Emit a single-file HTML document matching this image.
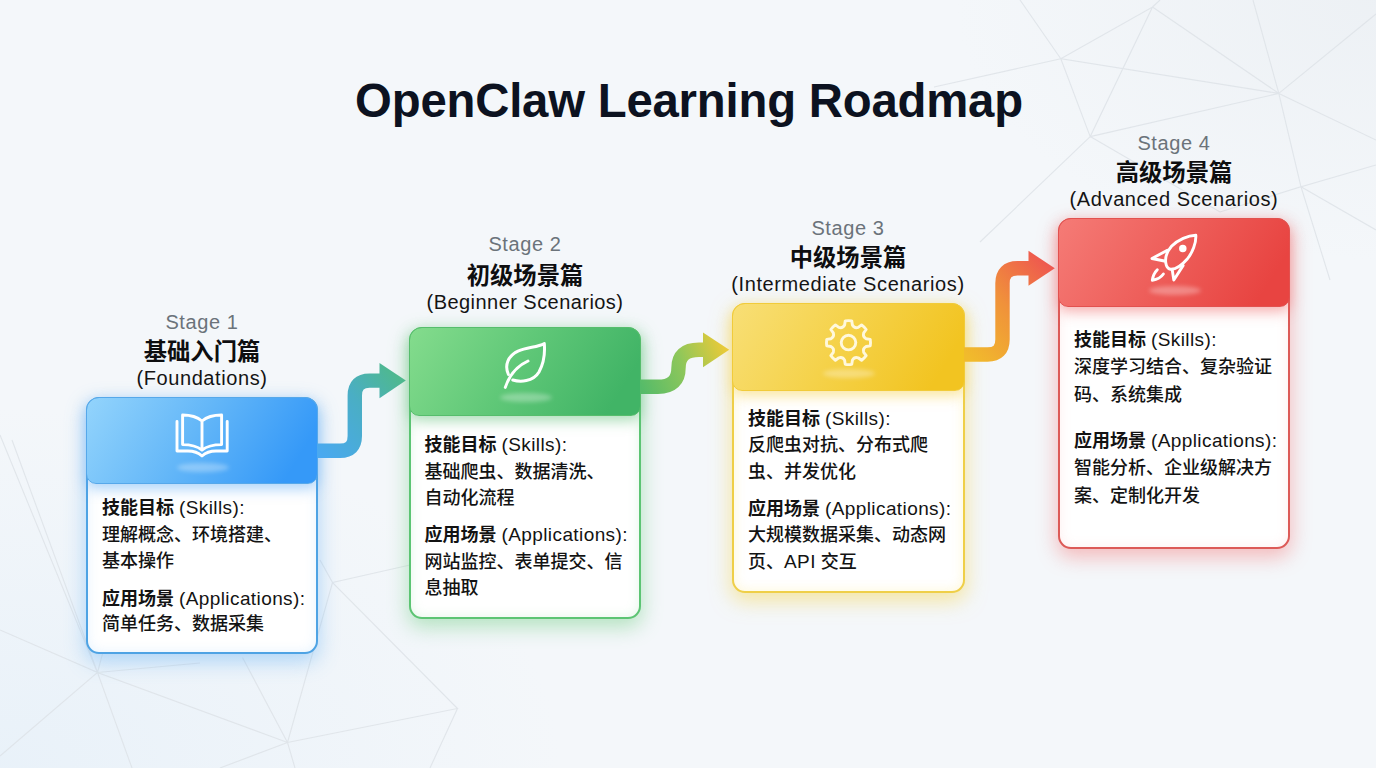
<!DOCTYPE html>
<html lang="zh">
<head>
<meta charset="utf-8">
<title>OpenClaw Learning Roadmap</title>
<style>
*{box-sizing:border-box;margin:0;padding:0}
html,body{width:1376px;height:768px;overflow:hidden}
body{position:relative;font-family:"Liberation Sans","Noto Sans CJK SC",sans-serif;color:#111;
background:
 radial-gradient(ellipse 560px 360px at 0px 768px, rgba(232,241,249,.95), rgba(232,241,249,0) 100%),
 radial-gradient(ellipse 420px 260px at 1376px 0px, rgba(236,240,244,.9), rgba(236,240,244,0) 100%),
 #f4f7fa;}
#bg{position:absolute;left:0;top:0;width:1376px;height:768px}
h1{position:absolute;left:1px;width:1376px;top:71px;text-align:center;font-size:47.3px;line-height:60px;font-weight:700;color:#0c1220;letter-spacing:-.2px}
.lab{position:absolute;text-align:center;width:320px}
.lab .s{font-size:20px;line-height:24px;color:#6b737a;letter-spacing:.6px}
.lab .c{font-size:23.3px;line-height:30px;font-weight:700;color:#0e0e10;font-family:"Noto Sans CJK SC","Liberation Sans",sans-serif}
.lab .e{font-size:20px;line-height:24px;color:#141414;letter-spacing:.6px}
.card{position:absolute;width:232px;border-radius:13px;background:#fff;border:2px solid #000}
.hd{position:absolute;left:-2px;top:-2px;width:232px;height:88px;border-radius:13px 13px 10px 10px;border:1.5px solid #000}
.hd svg{position:absolute;left:0;top:0}
.hd .gl{position:absolute;left:90px;top:65px;width:52px;height:9px;border-radius:50%;background:rgba(255,255,255,.3);filter:blur(2.2px)}
.tx{position:absolute;left:14px;top:95px;width:230px;font-size:18px;line-height:26.5px;color:#131313;white-space:nowrap;font-weight:500}
.tx b{font-weight:700;font-family:"Noto Sans CJK SC","Liberation Sans",sans-serif}
.tx .g{height:8.9px}
.tx .en{font-size:19px;letter-spacing:.4px;font-weight:400}

#ov{position:absolute;left:0;top:0;width:1376px;height:768px;pointer-events:none}
.c1{border-color:#4ea3e4;box-shadow:0 7px 20px 1px rgba(96,176,245,.44),inset 0 0 12px rgba(120,190,250,.18)}
.c1 .hd{background:linear-gradient(122deg,#93d4fc 0%,#64b7f8 45%,#3599f8 88%);border-color:#56a8ea;box-shadow:0 5px 13px rgba(90,170,245,.5)}
.c2{border-color:#5cc473;box-shadow:0 7px 20px 1px rgba(110,205,130,.48),inset 0 0 12px rgba(120,210,140,.2)}
.c2 .hd{background:linear-gradient(122deg,#84dc8d 0%,#60c878 45%,#41b466 88%);border-color:#56bd6c;box-shadow:0 5px 13px rgba(90,190,115,.5)}
.c3{border-color:#efcf48;box-shadow:0 7px 20px 1px rgba(245,215,90,.55),inset 0 0 12px rgba(250,225,110,.28)}
.c3 .hd{background:linear-gradient(122deg,#f8df76 0%,#f5d24a 45%,#f2c421 88%);border-color:#f1cb3a;box-shadow:0 5px 13px rgba(245,210,80,.55)}
.c4{border-color:#dc5a57;box-shadow:0 7px 20px 1px rgba(245,120,120,.48),inset 0 0 12px rgba(250,140,140,.15)}
.c4 .hd{background:linear-gradient(122deg,#f57b76 0%,#ee5f5b 45%,#e84441 88%);border-color:#e2514f;box-shadow:0 5px 13px rgba(240,100,100,.5)}
.t4{line-height:27.9px}
.t4 .g{height:15.3px}
</style>
</head>
<body>
<svg id="bg" viewBox="0 0 1376 768">
 <g stroke="#dce1e6" stroke-width="1.1" fill="none" opacity=".8">
  <path d="M0 435 L97.5 672.500 L287.500 742.500 L457.500 708.500 L332.500 582.500 L287.500 742.500 L242.500 657.500 M0 630 L97.500 672.500 L0 756 M97.500 672.500 L132 768 M97.500 672.500 L103 652 M287.500 742.500 L220 768 M287.500 742.500 L295 768 M457.500 708.500 L430 768 M332.500 582.500 L410 565 M332.500 582.500 L320 560 M12 440 L97.500 672.500 L200 663"/>
  <path d="M934 87 L1060.800 58.800 L1152.500 7 L1090.200 136.600 L1060.800 58.800 L1278.800 93.400 L1152.500 7 M1090.200 136.600 L1278.800 93.400 L1301 186.800 L1376 165 M1278.800 93.400 L1253 0 M1278.800 93.400 L1376 14 M1278.800 93.400 L1376 140 M1090.200 136.600 L980 242 M1090.200 136.600 L1220 212 L1301 186.800 L1330 280 M1152.500 7 L1160 0 M1060.800 58.800 L1020 0 M1301 186.800 L1376 230"/>
 </g>
</svg>

<h1>OpenClaw Learning Roadmap</h1>


<!-- stage labels -->
<div class="lab" style="left:42px;top:310px"><div class="s">Stage 1</div><div class="c" style="margin-top:.5px">基础入门篇</div><div class="e" style="margin-top:1px">(Foundations)</div></div>
<div class="lab" style="left:365px;top:232px"><div class="s">Stage 2</div><div class="c" style="margin-top:3px">初级场景篇</div><div class="e" style="margin-top:1px;letter-spacing:.45px">(Beginner Scenarios)</div></div>
<div class="lab" style="left:688px;top:216px"><div class="s">Stage 3</div><div class="c" style="margin-top:1px">中级场景篇</div><div class="e" style="margin-top:1px">(Intermediate Scenarios)</div></div>
<div class="lab" style="left:1014px;top:131px"><div class="s">Stage 4</div><div class="c" style="margin-top:.5px">高级场景篇</div><div class="e" style="margin-top:1.5px">(Advanced Scenarios)</div></div>

<!-- cards -->
<div class="card c1" style="left:86px;top:397px;height:257px">
 <div class="hd" style="height:87px"><div class="gl"></div></div>
 <div class="tx" style="top:94.2px">
  <div><b>技能目标</b> <span class="en">(Skills):</span></div><div>理解概念、环境搭建、</div><div>基本操作</div>
  <div class="g"></div>
  <div><b>应用场景</b> <span class="en">(Applications):</span></div><div style="margin-top:-1px">简单任务、数据采集</div>
 </div>
</div>
<div class="card c2" style="left:408.5px;top:326.5px;height:292.5px;width:232.5px">
 <div class="hd" style="height:89px;width:232.5px"><div class="gl"></div></div>
 <div class="tx" style="top:101.5px">
  <div><b>技能目标</b> <span class="en">(Skills):</span></div><div>基础爬虫、数据清洗、</div><div>自动化流程</div>
  <div class="g"></div>
  <div><b>应用场景</b> <span class="en">(Applications):</span></div><div>网站监控、表单提交、信</div><div>息抽取</div>
 </div>
</div>
<div class="card c3" style="left:732px;top:303px;height:289.5px;width:233px">
 <div class="hd" style="height:88px;width:233px"><div class="gl"></div></div>
 <div class="tx" style="top:98.6px">
  <div><b>技能目标</b> <span class="en">(Skills):</span></div><div>反爬虫对抗、分布式爬</div><div>虫、并发优化</div>
  <div class="g"></div>
  <div><b>应用场景</b> <span class="en">(Applications):</span></div><div>大规模数据采集、动态网</div><div>页、<span class="en">API</span> 交互</div>
 </div>
</div>
<div class="card c4" style="left:1058px;top:218px;height:331px">
 <div class="hd" style="height:89px"><div class="gl" style="top:67px"></div></div>
 <div class="tx t4" style="top:104.5px">
  <div><b>技能目标</b> <span class="en">(Skills):</span></div><div>深度学习结合、复杂验证</div><div>码、系统集成</div>
  <div class="g"></div>
  <div><b>应用场景</b> <span class="en">(Applications):</span></div><div>智能分析、企业级解决方</div><div>案、定制化开发</div>
 </div>
</div>

<!-- arrows + icons overlay -->
<svg id="ov" viewBox="0 0 1376 768">
 <defs>
  <linearGradient id="a1" gradientUnits="userSpaceOnUse" x1="318" y1="451" x2="406" y2="380"><stop offset="0" stop-color="#4aa9f0"/><stop offset=".55" stop-color="#4aaec4"/><stop offset="1" stop-color="#4fb98a"/></linearGradient>
  <linearGradient id="a2" gradientUnits="userSpaceOnUse" x1="641" y1="387" x2="729" y2="350"><stop offset="0" stop-color="#55bb69"/><stop offset=".5" stop-color="#8fc75a"/><stop offset="1" stop-color="#efca36"/></linearGradient>
  <linearGradient id="a3" gradientUnits="userSpaceOnUse" x1="965" y1="354" x2="1055" y2="268"><stop offset="0" stop-color="#f1bb2c"/><stop offset=".5" stop-color="#f0923a"/><stop offset="1" stop-color="#ee5650"/></linearGradient>
 </defs>
 <g fill="none" stroke-width="14.4" stroke-linejoin="round">
  <path stroke="url(#a1)" d="M317 450.8 H340 Q354.8 450.8 354.8 436 V395.5 Q354.8 380.6 369.6 380.6 H382"/>
  <path stroke="url(#a2)" d="M640 386.8 H658 C672 386.8 678.5 380 678.5 368 C678.5 356 685 349.8 699 349.8 H706"/>
  <path stroke="url(#a3)" d="M964 354.5 H987.5 Q1002.5 354.5 1002.5 339.5 V283.3 Q1002.5 268.3 1017.5 268.3 H1031"/>
 </g>
 <path fill="url(#a1)" d="M379.5 363 L405.8 380.6 L379.5 398.2Z"/>
 <path fill="url(#a2)" d="M703 332.4 L729.2 349.8 L703 367.2Z"/>
 <path fill="url(#a3)" d="M1028.5 250.8 L1054.8 268.3 L1028.5 285.8Z"/>

 <!-- book -->
 <g fill="none" stroke="#fff" stroke-width="2.9" stroke-linejoin="round" stroke-linecap="round">
  <path d="M202 421 Q195 415 182.6 415 V444.6 Q195 444.6 202 450 Q209 444.6 221.6 444.6 V415 Q209 415 202 421 V450"/>
  <path d="M177 421.5 V451 H188 Q196.5 451 202 456 Q207.500 451 216 451 H227.200 V421.500"/>
 </g>
 <!-- leaf -->
 <g fill="none" stroke="#fff" stroke-width="3" stroke-linejoin="round" stroke-linecap="round">
  <path d="M512.8 380 C520 382.2 533 382 539 372 C544 363 545 352 544.3 343.6 C537 347.5 527 347 518 351.2 C508 356 504.200 365 508.400 374.500"/>
  <path d="M528 361 C517 366 509 376 505.300 387.400"/>
 </g>
 <!-- gear -->
 <g fill="none" stroke="#fff8dc" stroke-width="2.9" stroke-linejoin="round">
  <path d="M844.60 325.03 L845.25 320.84 A22 22 0 0 1 851.75 320.84 L852.40 325.03 Q854.32 328.56 858.17 327.42 L861.59 324.92 A22 22 0 0 1 866.18 329.51 L863.68 332.93 Q862.54 336.78 866.07 338.70 L870.26 339.35 A22 22 0 0 1 870.26 345.85 L866.07 346.50 Q862.54 348.42 863.68 352.27 L866.18 355.69 A22 22 0 0 1 861.59 360.28 L858.17 357.78 Q854.32 356.64 852.40 360.17 L851.75 364.36 A22 22 0 0 1 845.25 364.36 L844.60 360.17 Q842.68 356.64 838.83 357.78 L835.41 360.28 A22 22 0 0 1 830.82 355.69 L833.32 352.27 Q834.46 348.42 830.93 346.50 L826.74 345.85 A22 22 0 0 1 826.74 339.35 L830.93 338.70 Q834.46 336.78 833.32 332.93 L830.82 329.51 A22 22 0 0 1 835.41 324.92 L838.83 327.42 Q842.68 328.56 844.60 325.03Z"/>
  <circle cx="848.5" cy="342.6" r="7.3"/>
 </g>
 <!-- rocket -->
 <g fill="none" stroke="#fff" stroke-width="2.9" stroke-linejoin="round" stroke-linecap="round">
  <path d="M1195.8 235.2 C1188 235.5 1178 239.5 1171.5 246.3 C1167 251.5 1165 258 1165.8 263 C1166.3 266.5 1168 268.800 1170.500 269.200 C1176 269.500 1182 265 1187.500 258.700 C1192.500 252.500 1196.300 243 1195.800 235.200Z"/>
  <path d="M1167.400 250.200 L1152 258.500 L1164.300 261"/>
  <path d="M1183.200 265.400 L1173.800 280 L1172.300 270.200"/>
  <path d="M1157.300 269.800 C1154.500 272.500 1153 276 1152.300 280.200 C1157 279.500 1161 277.500 1163.400 274"/>
  <circle cx="1182.800" cy="248.600" r="2.300" fill="#fff"/>
 </g>
</svg>
</body>
</html>
